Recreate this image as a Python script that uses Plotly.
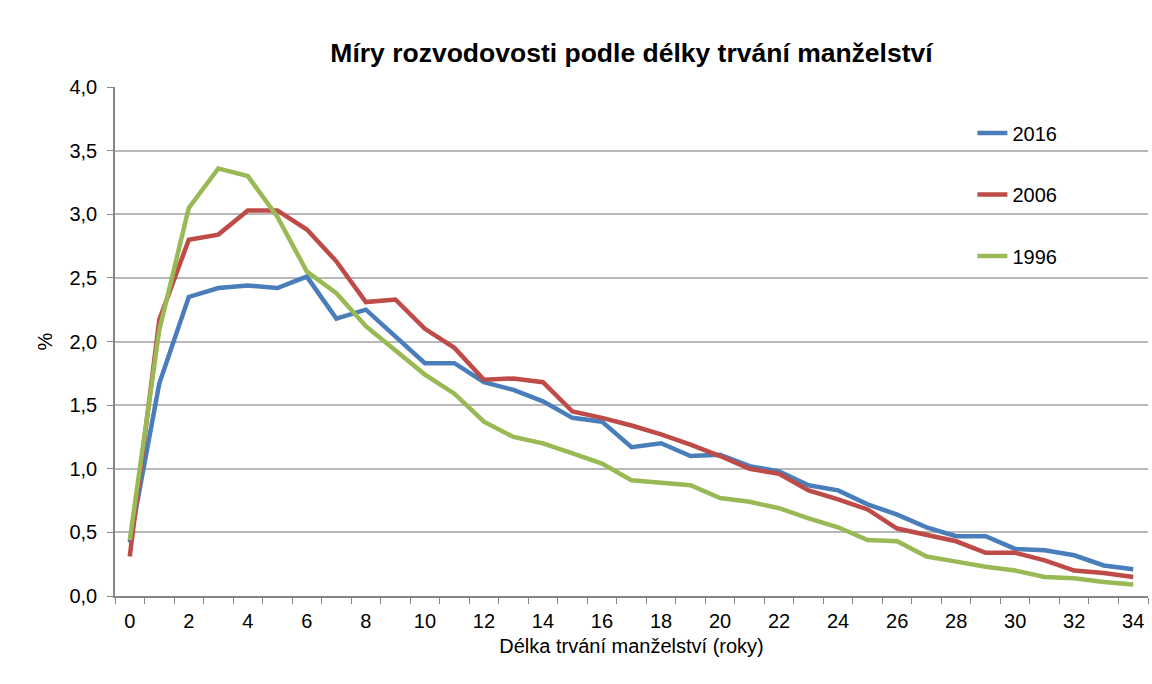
import plotly.graph_objects as go

years = list(range(0, 35))
s2016 = [0.42, 1.67, 2.35, 2.42, 2.44, 2.42, 2.51, 2.18, 2.25, 2.04, 1.83, 1.83, 1.68, 1.62, 1.53, 1.40,
         1.37, 1.17, 1.20, 1.10, 1.11, 1.02, 0.98, 0.87, 0.83, 0.72, 0.64, 0.54, 0.47, 0.47, 0.37, 0.36,
         0.32, 0.24, 0.21]
s2006 = [0.31, 2.17, 2.80, 2.84, 3.03, 3.03, 2.88, 2.63, 2.31, 2.33, 2.10, 1.95, 1.70, 1.71, 1.68, 1.45,
         1.40, 1.34, 1.27, 1.19, 1.10, 1.00, 0.96, 0.83, 0.76, 0.68, 0.53, 0.48, 0.43, 0.34, 0.34, 0.28,
         0.20, 0.18, 0.15]
s1996 = [0.44, 2.09, 3.05, 3.36, 3.30, 2.98, 2.55, 2.38, 2.12, 1.93, 1.74, 1.59, 1.37, 1.25, 1.20, 1.12,
         1.04, 0.91, 0.89, 0.87, 0.77, 0.74, 0.69, 0.61, 0.54, 0.44, 0.43, 0.31, 0.27, 0.23, 0.20, 0.15,
         0.14, 0.11, 0.09]
series_names = ["2016", "2006", "1996"]
series_colors = ["#4A7EBB", "#BE4B48", "#98B954"]
title = "Míry rozvodovosti podle délky trvání manželství"
x_title = "Délka trvání manželství (roky)"
y_title = "%"
x_ticks = list(range(0, 35, 2))

fig = go.Figure()
for name, vals, col in zip(series_names, [s2016, s2006, s1996], series_colors):
    fig.add_trace(go.Scatter(x=years, y=vals, mode="lines", name=name, legendgroup=name,
                             line=dict(color=col, width=4.5)))

fig.update_layout(
    width=1152, height=684,
    paper_bgcolor="white", plot_bgcolor="white",
    margin=dict(l=115, r=4, t=87, b=88),
    separators=", ",
    font=dict(family="Arial, Liberation Sans, sans-serif", size=20, color="#000000"),
    title=dict(text="<b>" + title + "</b>", x=0.5, xref="paper", xanchor="center",
               y=1 - 53 / 684, yanchor="middle",
               font=dict(size=26.5, color="#000000")),
    legend=dict(x=0.830, y=0.948, xanchor="left", yanchor="top",
                traceorder="grouped", tracegroupgap=32.5,
                font=dict(size=20), bgcolor="rgba(0,0,0,0)"),
    showlegend=True,
)
fig.update_xaxes(
    range=[-0.5, 34.5], tickmode="array", tickvals=x_ticks, ticktext=[str(v) for v in x_ticks],
    ticks="", showgrid=False, zeroline=False,
    showline=True, linecolor="#868686", linewidth=1.5,
    minor=dict(ticks="outside", tick0=-0.5, dtick=1, ticklen=6, tickcolor="#868686", showgrid=False),
    ticklabelstandoff=6,
    title=dict(text=x_title, font=dict(size=20), standoff=8),
    tickfont=dict(size=20),
)
fig.update_yaxes(
    range=[0, 4], dtick=0.5, tick0=0, tickformat=".1f",
    showgrid=True, gridcolor="#B8B8B8", gridwidth=2,
    zeroline=False, showline=True, linecolor="#868686", linewidth=1.5,
    ticks="outside", ticklen=6, tickcolor="#868686",
    ticklabelstandoff=6,
    title=dict(text=y_title, font=dict(size=20), standoff=11),
    tickfont=dict(size=20),
)

fig.write_html("out.html", config={"displayModeBar": False},
               post_script="document.body.style.margin='0';document.body.style.overflow='hidden';")
